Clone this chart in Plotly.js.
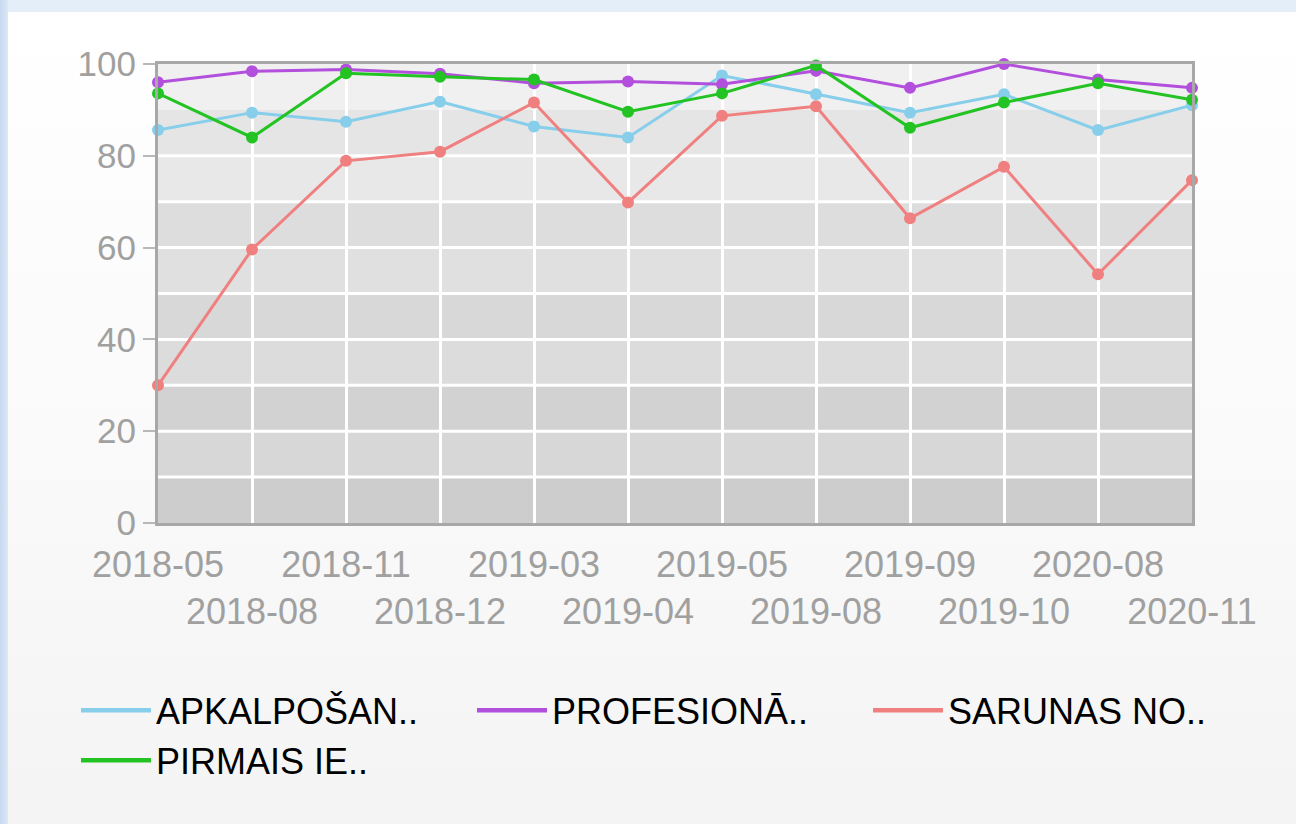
<!DOCTYPE html>
<html>
<head>
<meta charset="utf-8">
<script src="https://cdn.plot.ly/plotly-3.0.1.min.js"></script>
<style>
  html, body { margin: 0; padding: 0; width: 1296px; height: 824px; overflow: hidden; }
  body { background: linear-gradient(to right, #c6d9ee 0px, #dbe7f4 8px, #e4eef8 8px); }
  #panel { position: absolute; left: 8px; top: 12px; width: 1288px; height: 812px;
           background: linear-gradient(to bottom, #ffffff 0%, #f9f9f9 60%, #f4f4f4 100%); }
  #chart { position: absolute; left: -8px; top: -12px; width: 1296px; height: 824px; }
</style>
</head>
<body>
<div id="panel"><div id="chart"></div></div>
<script>
const categories = ['2018-05','2018-08','2018-11','2018-12','2019-03','2019-04','2019-05','2019-08','2019-09','2019-10','2020-08','2020-11'];
const seriesNames = ['APKALPOŠAN..', 'PROFESIONĀ..', 'SARUNAS NO..', 'PIRMAIS IE..'];
const apkalposan = [85.6, 89.4, 87.4, 91.8, 86.4, 84.0, 97.5, 93.4, 89.4, 93.4, 85.6, 91.0];
const profesiona = [96.0, 98.4, 98.8, 97.9, 95.8, 96.2, 95.6, 98.5, 94.8, 100.0, 96.6, 94.8];
const sarunas    = [30.0, 59.6, 78.9, 80.9, 91.6, 69.8, 88.7, 90.8, 66.4, 77.6, 54.2, 74.7];
const pirmais    = [93.6, 84.0, 98.0, 97.2, 96.6, 89.6, 93.6, 99.7, 86.1, 91.6, 95.8, 92.2];
const yTicks = [0, 20, 40, 60, 80, 100];

const colors = ['#87ceeb', '#b24fdc', '#f08080', '#22c322'];
const values = [apkalposan, profesiona, sarunas, pirmais];

const traces = values.map((v, i) => ({
  type: 'scatter', mode: 'lines+markers', name: seriesNames[i],
  x: categories, y: v,
  line: { color: colors[i], width: 3 },
  marker: { color: colors[i], size: 12 },
  cliponaxis: false, showlegend: false
}));
// legend entries (line only, as in the reference legend)
seriesNames.forEach((n, i) => {
  traces.push({ type: 'scatter', mode: 'lines', name: n, x: [null], y: [null],
    line: { color: colors[i], width: 4.5 }, showlegend: true });
});

// background bands (styling only)
const bandColors = ['#cdcdcd','#d7d7d7','#d2d2d2','#dcdcdc','#d8d8d8','#e0e0e0','#dddddd','#e8e8e8','#e5e5e5','#f0f0f0'];
const shapes = [];
bandColors.forEach((c, i) => {
  shapes.push({ type: 'rect', layer: 'below', xref: 'paper', yref: 'y', x0: 0, x1: 1, y0: i * 10, y1: i * 10 + 10,
    fillcolor: c, line: { width: 0 } });
});
[10, 20, 30, 40, 50, 60, 70, 80].forEach(v => {
  shapes.push({ type: 'line', layer: 'below', xref: 'paper', yref: 'y', x0: 0, x1: 1, y0: v, y1: v,
    line: { color: '#ffffff', width: 3 } });
});

const tickText = categories.map((c, i) => (i % 2 === 0 ? c : '<br>' + c));

const layout = {
  width: 1296, height: 824,
  margin: { l: 158, r: 104, t: 64, b: 301 },
  paper_bgcolor: 'rgba(0,0,0,0)',
  plot_bgcolor: 'rgba(0,0,0,0)',
  font: { family: 'Liberation Sans, Arial, sans-serif', size: 34, color: '#a0a0a0' },
  showlegend: true,
  xaxis: {
    type: 'category', range: [0, categories.length - 1],
    tickvals: categories, ticktext: tickText, tickangle: 0,
    showgrid: true, gridcolor: '#ffffff', gridwidth: 3,
    showline: true, mirror: true, linecolor: '#a8a8a8', linewidth: 3,
    ticks: '', ticklabelstandoff: 8, tickfont: { size: 36, color: '#a0a0a0' },
    fixedrange: true, automargin: false
  },
  yaxis: {
    range: [0, 100], tickvals: yTicks,
    showgrid: false, zeroline: false,
    showline: true, mirror: true, linecolor: '#a8a8a8', linewidth: 3,
    ticks: 'outside', ticklen: 12, tickcolor: '#b8b8b8', tickwidth: 2,
    tickfont: { size: 35, color: '#a0a0a0' },
    fixedrange: true, automargin: false
  },
  legend: {
    orientation: 'h', x: -0.0793, xanchor: 'left', y: -0.343, yanchor: 'top',
    font: { size: 36, color: '#000000' },
    itemwidth: 70, entrywidth: 311, entrywidthmode: 'pixels',
    bgcolor: 'rgba(0,0,0,0)', traceorder: 'normal'
  },
  shapes: shapes
};

Plotly.newPlot('chart', traces, layout, { displayModeBar: false, staticPlot: true });
</script>
</body>
</html>
